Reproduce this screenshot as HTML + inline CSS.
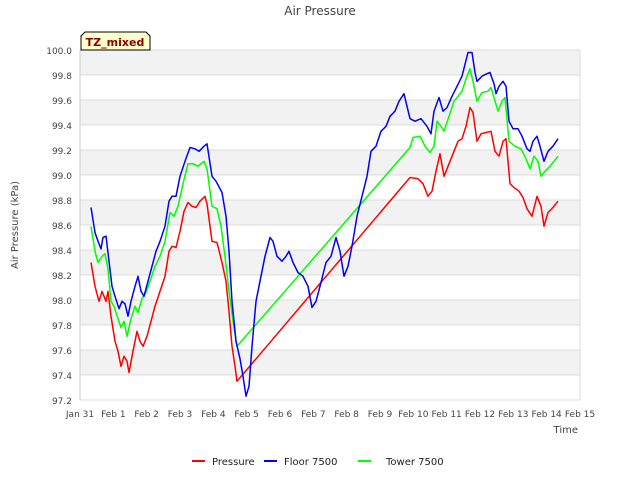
<!DOCTYPE html>
<html><head><meta charset="utf-8"><style>
body{margin:0;background:#fff;font-family:"DejaVu Sans",sans-serif}
svg text{font-family:"DejaVu Sans",sans-serif}
</style></head><body>
<svg id="chart" width="640" height="480" viewBox="0 0 640 480" xmlns="http://www.w3.org/2000/svg">
<g id="bands"></g><g id="grid"></g>
<text x="320" y="15" text-anchor="middle" font-size="12" fill="#444">Air Pressure</text>
<text x="18" y="225" text-anchor="middle" font-size="10" fill="#444" transform="rotate(-90 18 225)">Air Pressure (kPa)</text>
<text x="578" y="433" text-anchor="end" font-size="10" fill="#444">Time</text>
<g id="yticks"></g><g id="xticks"></g><g id="series"></g>
<g>
<path d="M81,50 L81,36 L85,32 L146,32 L150,36 L150,50 Z" fill="#ffffcc" stroke="#000" stroke-width="1"/>
<text x="115" y="46" text-anchor="middle" font-size="11" font-weight="bold" fill="#8b0000">TZ_mixed</text>
</g>
<g>
<g><line x1="192" y1="461" x2="205" y2="461" stroke="#ff0000" stroke-width="2"/><text x="212" y="465" font-size="10" fill="#222">Pressure</text></g>
<g><line x1="264" y1="461" x2="277" y2="461" stroke="#0000ff" stroke-width="2"/><text x="284" y="465" font-size="10" fill="#222">Floor 7500</text></g>
<g><line x1="358" y1="461" x2="371" y2="461" stroke="#00ff00" stroke-width="2"/><text x="386" y="465" font-size="10" fill="#222">Tower 7500</text></g>
</g>
</svg>
<script>
const xTickLabels=["Jan 31","Feb 1","Feb 2","Feb 3","Feb 4","Feb 5","Feb 6","Feb 7","Feb 8","Feb 9","Feb 10","Feb 11","Feb 12","Feb 13","Feb 14","Feb 15"];
const yTicks=[97.2,97.4,97.6,97.8,98.0,98.2,98.4,98.6,98.8,99.0,99.2,99.4,99.6,99.8,100.0];
const pressureDays=[0.33,0.45,0.57,0.66,0.78,0.84,0.93,1.05,1.14,1.23,1.32,1.41,1.47,1.59,1.71,1.80,1.89,2.01,2.13,2.25,2.40,2.55,2.67,2.76,2.88,3.00,3.12,3.24,3.36,3.48,3.60,3.75,3.81,3.96,4.11,4.26,4.38,4.47,4.56,4.65,4.71,9.90,10.14,10.29,10.44,10.56,10.68,10.80,10.92,11.04,11.22,11.34,11.46,11.58,11.70,11.79,11.91,12.03,12.18,12.33,12.45,12.57,12.69,12.78,12.90,13.02,13.17,13.29,13.41,13.56,13.71,13.83,13.92,14.04,14.19,14.34];
const pressureVals=[98.30,98.11,97.99,98.07,97.99,98.07,97.87,97.67,97.59,97.47,97.55,97.51,97.42,97.59,97.75,97.67,97.63,97.71,97.83,97.95,98.07,98.19,98.39,98.43,98.42,98.55,98.71,98.78,98.75,98.74,98.79,98.83,98.77,98.47,98.46,98.30,98.15,97.91,97.63,97.47,97.35,98.98,98.97,98.93,98.83,98.87,99.03,99.17,98.99,99.07,99.19,99.27,99.29,99.39,99.54,99.50,99.27,99.33,99.34,99.35,99.19,99.15,99.27,99.29,98.93,98.90,98.87,98.82,98.73,98.67,98.83,98.75,98.59,98.70,98.74,98.79];
const floorDays=[0.33,0.45,0.54,0.63,0.69,0.78,0.87,0.96,1.05,1.17,1.26,1.35,1.44,1.53,1.65,1.74,1.83,1.92,2.04,2.16,2.28,2.40,2.55,2.67,2.76,2.88,3.00,3.15,3.30,3.45,3.57,3.72,3.81,3.96,4.08,4.26,4.38,4.47,4.56,4.68,4.80,4.89,4.98,5.07,5.16,5.28,5.40,5.55,5.70,5.79,5.91,6.06,6.18,6.27,6.39,6.54,6.69,6.84,6.96,7.08,7.20,7.38,7.53,7.68,7.80,7.92,8.04,8.16,8.31,8.46,8.61,8.73,8.88,9.03,9.18,9.30,9.45,9.57,9.72,9.81,9.90,10.05,10.23,10.41,10.53,10.62,10.77,10.89,11.01,11.16,11.31,11.46,11.64,11.76,11.85,11.91,12.06,12.21,12.30,12.42,12.48,12.57,12.69,12.78,12.87,12.99,13.14,13.26,13.41,13.50,13.59,13.71,13.80,13.92,14.04,14.19,14.34];
const floorVals=[98.74,98.54,98.47,98.41,98.50,98.51,98.31,98.11,98.03,97.93,97.99,97.97,97.87,97.99,98.11,98.19,98.07,98.03,98.15,98.27,98.39,98.47,98.59,98.79,98.83,98.83,98.99,99.11,99.22,99.21,99.19,99.23,99.25,98.99,98.95,98.86,98.67,98.39,97.99,97.67,97.53,97.39,97.23,97.31,97.63,97.99,98.15,98.35,98.50,98.47,98.35,98.31,98.35,98.39,98.30,98.22,98.19,98.11,97.94,97.99,98.11,98.30,98.35,98.50,98.39,98.19,98.27,98.43,98.67,98.83,98.99,99.19,99.23,99.35,99.39,99.47,99.51,99.59,99.65,99.55,99.45,99.43,99.45,99.39,99.33,99.51,99.62,99.51,99.54,99.63,99.71,99.79,99.98,99.98,99.82,99.75,99.79,99.81,99.82,99.73,99.65,99.71,99.75,99.71,99.43,99.37,99.37,99.31,99.21,99.19,99.27,99.31,99.23,99.11,99.19,99.23,99.29];
const towerDays=[0.33,0.45,0.54,0.66,0.75,0.84,0.93,1.02,1.14,1.23,1.32,1.41,1.53,1.65,1.74,1.86,1.98,2.10,2.25,2.40,2.55,2.70,2.82,2.94,3.09,3.24,3.39,3.54,3.72,3.81,3.96,4.11,4.23,4.35,4.47,4.59,4.71,9.90,9.99,10.20,10.35,10.50,10.62,10.71,10.83,10.92,11.07,11.22,11.34,11.46,11.58,11.70,11.79,11.91,12.06,12.24,12.33,12.45,12.54,12.66,12.75,12.87,13.05,13.23,13.38,13.50,13.62,13.74,13.83,13.95,14.10,14.34];
const towerVals=[98.59,98.39,98.30,98.35,98.37,98.25,97.99,97.95,97.85,97.78,97.83,97.71,97.85,97.95,97.90,98.01,98.06,98.15,98.27,98.35,98.47,98.70,98.67,98.75,98.93,99.09,99.09,99.07,99.11,99.05,98.75,98.73,98.59,98.35,98.07,97.83,97.63,99.22,99.30,99.31,99.23,99.18,99.23,99.43,99.39,99.35,99.47,99.59,99.63,99.67,99.77,99.85,99.75,99.59,99.66,99.67,99.70,99.59,99.51,99.59,99.62,99.27,99.23,99.21,99.13,99.05,99.15,99.11,98.99,99.03,99.07,99.15];

const NS="http://www.w3.org/2000/svg";
const L=80,R=580,T=50,B=400,yMin=97.2,yMax=100.0,xMax=15;
function xs(d){return L+(R-L)*d/xMax;}
function ys(v){return B-(B-T)*(v-yMin)/(yMax-yMin);}
function mk(tag,attrs,parent){const e=document.createElementNS(NS,tag);for(const k in attrs)e.setAttribute(k,attrs[k]);document.getElementById(parent).appendChild(e);return e;}
for(let i=0;i<yTicks.length-1;i++){
  if((yTicks.length-2-i)%2===0){
    const b=mk('rect',{x:L,y:ys(yTicks[i+1]),width:R-L,height:ys(yTicks[i])-ys(yTicks[i+1]),fill:'#f2f2f2'},'bands');
    
    
  }
}
yTicks.forEach(v=>{
  const g=mk('line',{x1:L,x2:R,y1:ys(v),y2:ys(v),stroke:'#dcdcdc','stroke-width':1},'grid');
  
  
  const t=mk('text',{x:L-8,y:ys(v)+4,'text-anchor':'end','font-size':9,fill:'#444'},'yticks');
  t.textContent=v.toFixed(1);
  
  
});
const ax=mk('line',{x1:L,x2:L,y1:T,y2:B,stroke:'#ccc'},'grid');


const ax2=mk('line',{x1:R,x2:R,y1:T,y2:B,stroke:'#ddd'},'grid');


xTickLabels.forEach((s,i)=>{
  const t=mk('text',{x:xs(i),y:417,'text-anchor':'middle','font-size':9,fill:'#444'},'xticks');
  t.textContent=s;
  
  
});
function draw(days,vals,color,name){
  const p=mk('polyline',{points:days.map((d,i)=>xs(d).toFixed(1)+','+ys(vals[i]).toFixed(1)).join(' '),fill:'none',stroke:color,'stroke-width':1.5,'stroke-linejoin':'round'},'series');
  
  
}
draw(pressureDays,pressureVals,'#ff0000','pressure-line');
draw(towerDays,towerVals,'#00ff00','tower-7500-line');
draw(floorDays,floorVals,'#0000ff','floor-7500-line');
</script>
</body></html>
